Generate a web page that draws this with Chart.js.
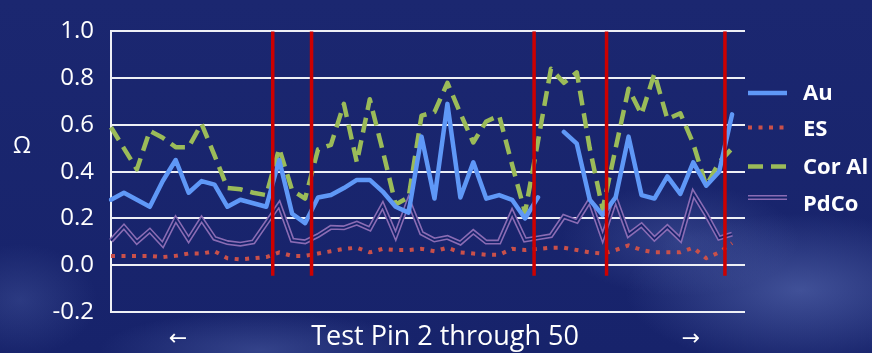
<!DOCTYPE html>
<html>
<head>
<meta charset="utf-8">
<script src="https://cdn.jsdelivr.net/npm/chart.js@4.4.1/dist/chart.umd.min.js"></script>
<style>
  html, body { margin: 0; padding: 0; }
  body {
    width: 872px; height: 353px; overflow: hidden;
    background:
      radial-gradient(ellipse 250px 110px at 800px 290px, rgba(105,125,195,0.5), rgba(105,125,195,0) 70%),
      radial-gradient(ellipse 170px 80px at 680px 240px, rgba(105,125,195,0.3), rgba(105,125,195,0) 70%),
      radial-gradient(ellipse 230px 55px at 260px 350px, rgba(105,125,195,0.35), rgba(105,125,195,0) 70%),
      radial-gradient(ellipse 110px 80px at 20px 300px, rgba(90,110,180,0.3), rgba(90,110,180,0) 70%),
      linear-gradient(#1b2770, #17236b);
  }
  #wrap { position: absolute; left: 0; top: 0; width: 872px; height: 353px; }
</style>
</head>
<body>
<div id="wrap"><canvas id="chart" width="872" height="353"></canvas></div>
<script>
// Test pins 2..50 (one spare slot at the right end of the axis)
const pins = ['2','3','4','5','6','7','8','9','10','11','12','13','14','15','16','17','18','19','20',
  '21','22','23','24','25','26','27','28','29','30','31','32','33','34','35','36','37','38','39','40',
  '41','42','43','44','45','46','47','48','49','50',''];

// Contact resistance per pin, ohms
const au = [0.28, 0.31, 0.28, 0.25, 0.36, 0.45, 0.31, 0.36, 0.345, 0.25,
  0.28, 0.265, 0.25, 0.45, 0.22, 0.18, 0.29, 0.30, 0.33, 0.365,
  0.365, 0.315, 0.25, 0.225, 0.55, 0.285, 0.69, 0.29, 0.44, 0.285,
  0.30, 0.28, 0.20, 0.29, null, 0.57, 0.52, 0.28, 0.215, 0.29,
  0.55, 0.30, 0.285, 0.38, 0.305, 0.44, 0.34, 0.40, 0.645];

const es = [0.04, 0.04, 0.04, 0.04, 0.035, 0.04, 0.05, 0.05, 0.06, 0.03,
  0.025, 0.03, 0.035, 0.055, 0.04, 0.04, 0.05, 0.06, 0.07, 0.075,
  0.055, 0.07, 0.065, 0.065, 0.07, 0.06, 0.075, 0.055, 0.05, 0.045,
  0.045, 0.07, 0.065, 0.07, 0.075, 0.075, 0.065, 0.055, 0.05, 0.065,
  0.085, 0.065, 0.055, 0.055, 0.055, 0.075, 0.03, 0.055, 0.095];

const corAl = [0.59, 0.50, 0.41, 0.575, 0.545, 0.505, 0.505, 0.605, 0.47, 0.33,
  0.325, 0.31, 0.30, 0.50, 0.32, 0.285, 0.495, 0.515, 0.69, 0.44,
  0.71, 0.49, 0.26, 0.29, 0.64, 0.655, 0.78, 0.65, 0.525, 0.615,
  0.64, 0.43, 0.225, 0.53, 0.84, 0.78, 0.825, 0.50, 0.24, 0.50,
  0.755, 0.645, 0.82, 0.625, 0.65, 0.52, 0.34, 0.44, 0.50];

const pdco = [0.105, 0.165, 0.10, 0.148, 0.088, 0.197, 0.11, 0.197, 0.115, 0.097,
  0.09, 0.10, 0.18, 0.26, 0.107, 0.10, 0.127, 0.162, 0.16, 0.18,
  0.156, 0.256, 0.126, 0.276, 0.137, 0.108, 0.119, 0.095, 0.143, 0.099,
  0.099, 0.225, 0.108, 0.117, 0.126, 0.208, 0.188, 0.277, 0.119, 0.283,
  0.13, 0.172, 0.113, 0.164, 0.111, 0.307, 0.217, 0.116, 0.133];

// Red divider markers, in pin-slot units, and their vertical extent (ohms)
const dividers = [12.5, 15.5, 32.7, 38.3, 47.45];
const dividerTop = 1.0;
const dividerBottom = -0.045;

const yMin = -0.2, yMax = 1.0, yStep = 0.2;

const NAVY = '#16226a';
const COLORS = { au: '#5f98f7', es: '#c9504a', corAl: '#9bbb59', pdco: '#8a6cb4', divider: '#cc0000' };

const extras = {
  id: 'extras',
  afterDatasetsDraw(chart) {
    const { ctx, scales: { x, y } } = chart;
    ctx.save();
    ctx.strokeStyle = COLORS.divider;
    ctx.lineWidth = 3.5;
    dividers.forEach(d => {
      const px = x.getPixelForValue(d);
      ctx.beginPath();
      ctx.moveTo(px, y.getPixelForValue(dividerTop));
      ctx.lineTo(px, y.getPixelForValue(dividerBottom));
      ctx.stroke();
    });
    ctx.restore();
  },
  afterDraw(chart) {
    const { ctx, chartArea } = chart;
    ctx.save();
    // legend on the right
    const lx = chartArea.right + 3, lw = 39, tx = chartArea.right + 58;
    const rows = [
      { label: 'Au', ly: 93, ty: 94, draw: (y) => { line(y, COLORS.au, 4.5, []); } },
      { label: 'ES', ly: 127.5, ty: 130, draw: (y) => { line(y, COLORS.es, 4, [4, 6.5]); } },
      { label: 'Cor Al', ly: 166.5, ty: 167.5, draw: (y) => { line(y, COLORS.corAl, 4.5, [15, 8]); } },
      { label: 'PdCo', ly: 197.5, ty: 205, draw: (y) => { line(y, COLORS.pdco, 5, []); line(y, NAVY, 1.8, []); } }
    ];
    function line(y, color, w, dash) {
      ctx.save();
      ctx.strokeStyle = color; ctx.lineWidth = w; ctx.setLineDash(dash); ctx.lineCap = 'butt';
      ctx.beginPath(); ctx.moveTo(lx, y); ctx.lineTo(lx + lw, y); ctx.stroke();
      ctx.restore();
    }
    ctx.fillStyle = '#ffffff';
    ctx.textBaseline = 'middle';
    ctx.textAlign = 'left';
    ctx.font = 'bold 22px "Open Sans", sans-serif';
    rows.forEach(r => { r.draw(r.ly); ctx.fillText(r.label, tx, r.ty); });

    // axis titles
    ctx.font = '27px "Open Sans", sans-serif';
    ctx.textAlign = 'center';
    ctx.fillText('Test Pin 2 through 50', 445, 337);
    ctx.font = '22px "DejaVu Sans", sans-serif';
    ctx.fillText('\u2190', 178, 339);
    ctx.fillText('\u2192', 691, 339);
    ctx.font = '23px "Open Sans", sans-serif';
    ctx.fillText('\u03A9', 22, 146);
    ctx.restore();
  }
};

new Chart(document.getElementById('chart'), {
  type: 'line',
  data: {
    labels: pins,
    datasets: [
      { label: 'Au', data: au, borderColor: COLORS.au, borderWidth: 4.5, order: 1,
        borderJoinStyle: 'round', borderCapStyle: 'round' },
      { label: 'ES', data: es, borderColor: COLORS.es, borderWidth: 4, borderDash: [4, 6.5], order: 2,
        borderJoinStyle: 'round' },
      { label: 'Cor Al', data: corAl, borderColor: COLORS.corAl, borderWidth: 4.5, borderDash: [15, 8], order: 3,
        borderJoinStyle: 'round' },
      { label: 'PdCo', data: pdco, borderColor: NAVY, borderWidth: 1.8, order: 4, borderJoinStyle: 'miter' },
      { label: 'PdCo', data: pdco, borderColor: COLORS.pdco, borderWidth: 5, order: 5, borderJoinStyle: 'miter' }
    ]
  },
  options: {
    responsive: false,
    devicePixelRatio: 1,
    animation: false,
    spanGaps: false,
    elements: { point: { radius: 0, hoverRadius: 0 }, line: { tension: 0, fill: false } },
    layout: { padding: { top: 20, right: 127, left: 0, bottom: 0 } },
    plugins: { legend: { display: false }, tooltip: { enabled: false } },
    scales: {
      x: {
        type: 'category',
        offset: false,
        grid: { display: false, drawTicks: false },
        border: { display: false },
        ticks: { display: false },
        afterFit: s => { s.height = 41; }
      },
      y: {
        min: yMin, max: yMax,
        ticks: {
          stepSize: yStep, padding: 17, color: '#ffffff',
          font: { family: '"Open Sans", sans-serif', size: 24 },
          callback: v => (Math.abs(v) < 1e-9 ? 0 : v).toFixed(1)
        },
        grid: { color: '#eef0f6', lineWidth: 2, drawTicks: false },
        border: { display: true, color: '#eef0f6', width: 2 },
        afterFit: s => { s.width = 111; }
      }
    }
  },
  plugins: [extras]
});
</script>
</body>
</html>
